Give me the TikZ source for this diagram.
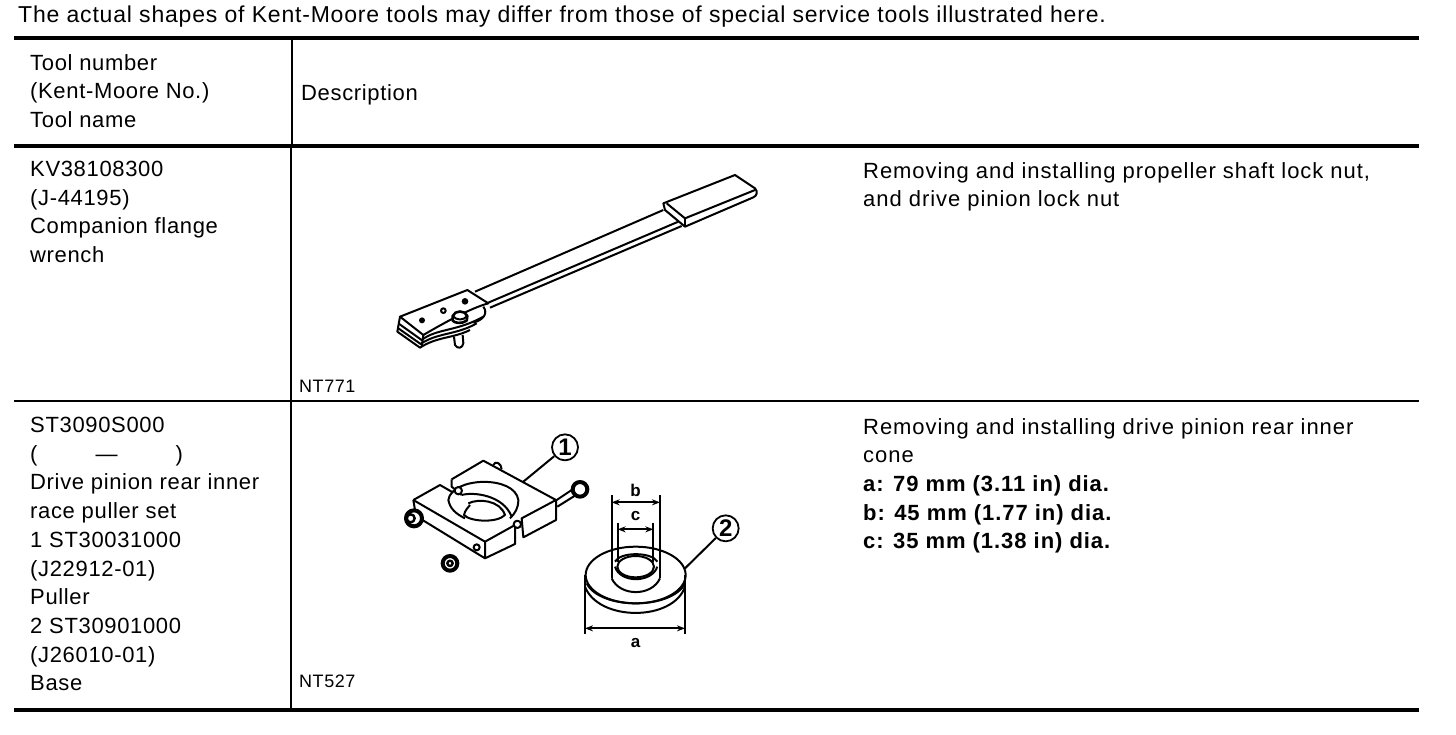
\documentclass[tikz,border=0pt]{standalone}
\usepackage{fontspec}
\setmainfont{Liberation Sans}[LetterSpace=3]
\newfontfamily\purposefont{Liberation Sans}[LetterSpace=4.3]
\newfontfamily\noticefont{Liberation Sans}[LetterSpace=3.5]
\usetikzlibrary{arrows.meta}
\tikzset{
  celltext/.style={anchor=north west,inner sep=0pt,align=left,font=\fontsize{22}{28.7}\selectfont},
  purposetext/.style={celltext,font=\purposefont\fontsize{22}{28.7}\selectfont},
  noticetext/.style={anchor=north west,inner sep=0pt,font=\noticefont\fontsize{23}{28}\selectfont},
  figtag/.style={anchor=base west,inner sep=0pt,font=\fontsize{18}{20}\selectfont},
  dimtext/.style={inner sep=0pt,font=\fontsize{17}{18}\selectfont\bfseries},
  callout/.style={draw,circle,line width=1.8pt,minimum size=26pt,inner sep=0pt,font=\fontsize{24}{26}\selectfont\bfseries},
  heavyrule/.style={line width=4pt},
  lightrule/.style={line width=2pt},
  ink/.style={line width=2pt,line join=round},
  dimline/.style={line width=1.8pt,{Stealth[length=8pt,width=6pt]}-{Stealth[length=8pt,width=6pt]}}
}
\begin{document}
\begin{tikzpicture}[x=1pt,y=-1pt]
  \useasboundingbox (0,0) rectangle (1456,734);
  % rules of the table
  \draw[heavyrule] (14,38) -- (1419,38);
  \draw[heavyrule] (14,146) -- (1419,146);
  \draw[lightrule] (14,401) -- (1419,401);
  \draw[heavyrule] (14,710) -- (1419,710);
  \draw[lightrule] (292,38) -- (292,146);
  \draw[lightrule] (291,146) -- (291,710);
  % texts
  \node[noticetext] (notice) at (18,6) {The actual shapes of Kent-Moore tools may differ from those of special service tools illustrated here.};
  \node[celltext] (headnumber) at (30,54) {Tool number\\(Kent-Moore No.)\\Tool name};
  \node[celltext] (headdesc) at (301,84) {Description};
  \node[celltext] (wrenchname) at (30,161) {KV38108300\\(J-44195)\\Companion flange\\wrench};
  \node[purposetext] (wrenchuse) at (863,162) {Removing and installing propeller shaft lock nut,\\and drive pinion lock nut};
  \node[figtag] (wrenchtag) at (299,392) {NT771};
  \node[celltext] (pullername) at (30,417) {ST3090S000\\(\hspace{58pt}---\hspace{58pt})\\Drive pinion rear inner\\race puller set\\1 ST30031000\\(J22912-01)\\Puller\\2 ST30901000\\(J26010-01)\\Base};
  \node[purposetext] (pulleruse) at (863,418) {Removing and installing drive pinion rear inner\\cone\\\textbf{a: 79 mm (3.11 in) dia.}\\\textbf{b: 45 mm (1.77 in) dia.}\\\textbf{c: 35 mm (1.38 in) dia.}};
  \node[figtag] (pullertag) at (299,687) {NT527};
  % wrench
  \begin{scope}[shift={(380,160)},scale=1/3,ink]
    \draw (850,130) -- (1065,45) -- (1125,85) .. controls (1135,95) and (1130,108) .. (1120,112) -- (915,200) -- (855,150) -- cycle;
    \draw (860,130) -- (915,175) -- (1125,90);
    \draw (915,175) -- (915,200);
    \draw (285,395) -- (850,150);
    \draw (320,430) -- (895,185);
    \draw (330,443) -- (905,198);
    \draw (60,470) -- (262,390) -- (325,430) .. controls (270,445) and (190,490) .. (130,525) -- cycle;
    \draw (60,470) -- (52,515) -- (120,563) .. controls (170,530) and (220,535) .. (270,510);
    \draw (55,490) -- (125,540) .. controls (170,505) and (230,515) .. (310,470);
    \draw (55,505) -- (122,552) .. controls (170,518) and (230,525) .. (290,490);
    \draw (130,525) -- (125,560);
    \draw (310,440) .. controls (325,460) and (310,480) .. (280,488);
    \draw (222,530) -- (225,555) .. controls (232,568) and (248,565) .. (250,550) -- (248,525);
    \draw[fill=white,line width=2.6pt] (218,468) .. controls (225,450) and (255,450) .. (262,468) -- (260,482) .. controls (245,492) and (225,490) .. (218,482) -- cycle;
    \draw (218,468) .. controls (230,482) and (250,482) .. (262,468);
    \fill (126,481) circle (9);
    \draw[line width=2pt] (190,452) circle (7);
    \fill (255,424) circle (10);
  \end{scope}
  % puller
  \begin{scope}[shift={(390,420)},scale=1/3,ink]
    \draw (185,178) -- (280,122) -- (498,240) -- (498,300) -- (400,352) -- (395,295) -- (498,240);
    \draw (185,178) -- (185,200) -- (215,225);
    \draw (310,135) .. controls (315,120) and (335,130) .. (335,148);
    \draw (70,240) -- (150,195) -- (190,218);
    \draw (70,240) -- (285,365) -- (375,315) -- (375,372) -- (285,415) -- (285,365);
    \draw (70,240) -- (78,288) -- (285,415);
    \draw (175,240) .. controls (185,170) and (375,165) .. (385,240) .. controls (385,265) and (375,280) .. (360,295);
    \draw (175,240) .. controls (180,265) and (195,280) .. (225,295);
    \draw (215,225) .. controls (250,215) and (340,225) .. (365,290);
    \draw (235,250) .. controls (265,235) and (330,240) .. (345,285) .. controls (320,310) and (240,305) .. (222,285) .. controls (225,270) and (235,262) .. (240,255);
    \draw[fill=white] (205,212) circle (11);
    \draw[fill=white] (382,313) circle (11);
    \draw (500,240) -- (545,210);
    \draw (502,260) -- (558,225);
    \draw[line width=4pt,fill=white] (570,208) circle (22);
    \draw[line width=4pt,fill=white] (72,295) circle (24);
    \draw[line width=2.4pt] (62,295) circle (12);
    \draw[line width=4pt] (180,430) circle (22);
    \draw[line width=2.4pt] (180,430) circle (8);
    \draw (260,382) circle (9);
    \node[callout] (calloutone) at (525,82) {1};
    \coordinate (tipone) at (400,185);
    \draw (calloutone) -- (tipone);
  \end{scope}
  % base
  \begin{scope}[shift={(570,470)},scale=1/3,ink]
    \draw (197,315) ellipse [x radius=150,y radius=85];
    \draw (50,340) .. controls (90,420) and (305,420) .. (345,340);
    \draw (45,350) .. controls (85,455) and (310,455) .. (345,350);
    \draw (197,290) ellipse [x radius=55,y radius=32];
    \draw (135,275) .. controls (150,245) and (245,245) .. (262,275);
    \draw (135,290) .. controls (150,340) and (245,340) .. (262,290);
    \draw (125,325) .. controls (150,380) and (245,380) .. (270,325);
    \coordinate (btopl) at (125,75); \coordinate (bbotl) at (125,325);
    \coordinate (btopr) at (270,75); \coordinate (bbotr) at (270,325);
    \coordinate (ctopl) at (143,158); \coordinate (cbotl) at (143,275);
    \coordinate (ctopr) at (250,158); \coordinate (cbotr) at (250,275);
    \coordinate (atopl) at (45,315); \coordinate (abotl) at (45,492);
    \coordinate (atopr) at (345,315); \coordinate (abotr) at (345,492);
    \draw (btopl) -- (bbotl);
    \draw (btopr) -- (bbotr);
    \draw (ctopl) -- (cbotl);
    \draw (ctopr) -- (cbotr);
    \draw (atopl) -- (abotl);
    \draw (atopr) -- (abotr);
    \draw[dimline] (125,97) -- (270,97);
    \draw[dimline] (143,178) -- (250,178);
    \draw[dimline] (45,475) -- (345,475);
    \node[dimtext] (lblb) at (197,62) {b};
    \node[dimtext] (lblc) at (197,138) {c};
    \node[dimtext] (lbla) at (197,518) {a};
    \node[callout] (callouttwo) at (467,175) {2};
    \coordinate (tiptwo) at (345,295);
    \draw (callouttwo) -- (tiptwo);
  \end{scope}
\end{tikzpicture}
\end{document}
